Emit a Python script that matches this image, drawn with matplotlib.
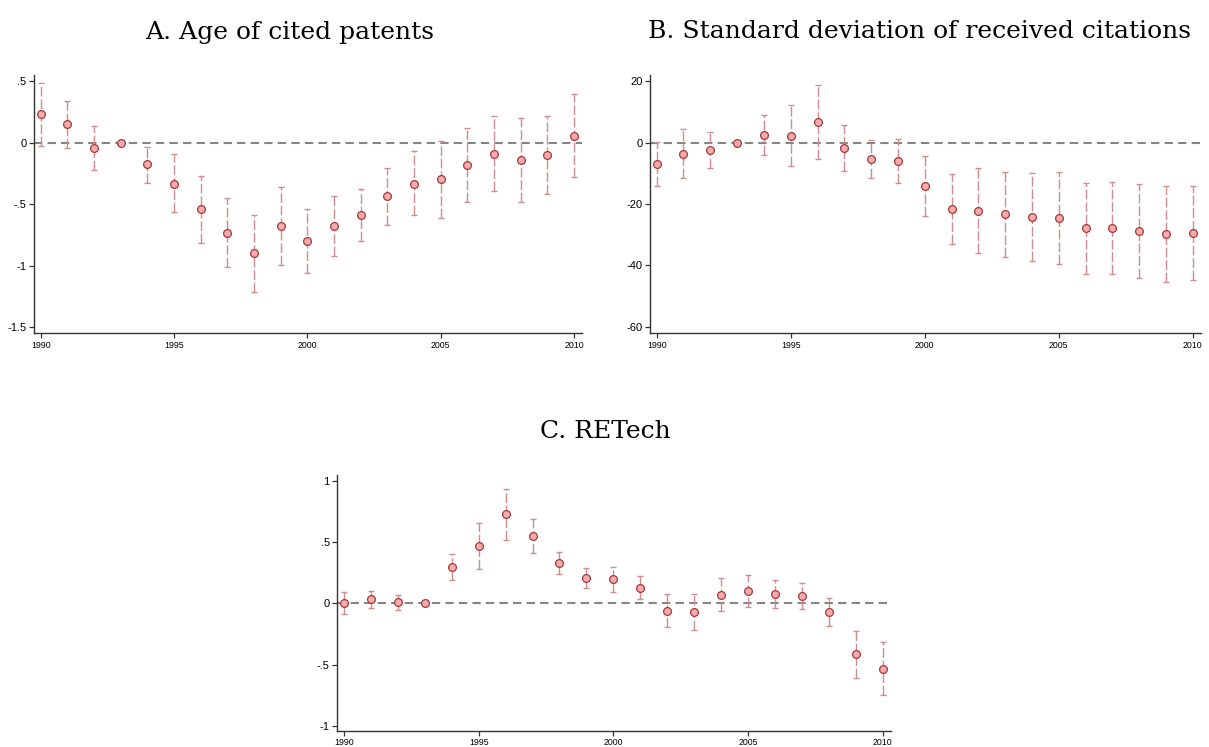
import matplotlib
matplotlib.use('Agg')
from matplotlib import pyplot as plt

# Years
years = list(range(1990, 2011))

# A. Age of cited patents
age_coef = [0.234, 0.152, -0.043, 0.0, -0.177, -0.332, -0.543, -0.734, -0.902, -0.679, -0.799,
            -0.677, -0.590, -0.435, -0.332, -0.296, -0.182, -0.090, -0.141, -0.101, 0.057]
age_hi = [0.49, 0.342, 0.139, None, -0.033, -0.095, -0.269, -0.454, -0.587, -0.364, -0.538,
          -0.432, -0.380, -0.204, -0.068, 0.016, 0.122, 0.217, 0.201, 0.217, 0.394]
age_lo = [-0.024, -0.041, -0.223, None, -0.329, -0.568, -0.818, -1.014, -1.215, -0.997, -1.06,
          -0.924, -0.799, -0.666, -0.592, -0.611, -0.486, -0.394, -0.481, -0.418, -0.277]

# B. Standard deviation of received citations
sd_coef = [-6.97, -3.6, -2.5, 0.0, 2.4, 2.2, 6.8, -1.7, -5.4, -5.9, -14.2,
           -21.6, -22.2, -23.3, -24.3, -24.6, -27.8, -27.7, -28.9, -29.8, -29.4]
sd_hi = [0.3, 4.6, 3.4, None, 9.2, 12.2, 18.7, 5.8, 0.8, 1.3, -4.2,
         -10.1, -8.4, -9.4, -10.0, -9.5, -13.0, -12.8, -13.6, -14.2, -14.1]
sd_lo = [-14.0, -11.6, -8.4, None, -4.1, -7.7, -5.2, -9.3, -11.6, -13.1, -24.0,
         -32.9, -36.0, -37.3, -38.7, -39.7, -42.7, -42.7, -44.2, -45.3, -44.9]

# C. RETech
re_coef = [0.0, 0.033, 0.008, 0.0, 0.294, 0.465, 0.727, 0.55, 0.327, 0.204, 0.196,
           0.128, -0.063, -0.073, 0.071, 0.098, 0.076, 0.057, -0.068, -0.414, -0.533]
re_hi = [0.09, 0.10, 0.071, None, 0.40, 0.656, 0.936, 0.686, 0.416, 0.286, 0.30,
         0.223, 0.074, 0.074, 0.207, 0.231, 0.193, 0.166, 0.046, -0.226, -0.316]
re_lo = [-0.09, -0.038, -0.054, None, 0.188, 0.28, 0.517, 0.408, 0.237, 0.122, 0.093,
         0.035, -0.196, -0.22, -0.065, -0.033, -0.041, -0.049, -0.182, -0.607, -0.748]

# Tick labels
x_ticks = [1990, 1995, 2000, 2005, 2010]
age_yticks = [0.5, 0, -0.5, -1, -1.5]
age_ylabels = ['.5', '0', '-.5', '-1', '-1.5']
sd_yticks = [20, 0, -20, -40, -60]
sd_ylabels = ['20', '0', '-20', '-40', '-60']
re_yticks = [1, 0.5, 0, -0.5, -1]
re_ylabels = ['1', '.5', '0', '-.5', '-1']

titles = ['A. Age of cited patents', 'B. Standard deviation of received citations', 'C. RETech']

bar_col = '#cc8c90'
face_col = '#f6acab'
edge_col = '#a8363c'


def draw_panel(ax, coef, hi, lo, yticks, ylabels, ylim):
    # error bars (reference year has none)
    ex = [y for y, h in zip(years, hi) if h is not None]
    ec = [c for c, h in zip(coef, hi) if h is not None]
    eh = [h - c for c, h in zip(coef, hi) if h is not None]
    el = [c - l for c, l in zip(coef, lo) if l is not None]
    ax.axhline(0, color='#858585', lw=1.5, ls=(0, (4, 2.5)), zorder=1)
    eb = ax.errorbar(ex, ec, yerr=[el, eh], fmt='none', ecolor=bar_col, elinewidth=1.0,
                     capsize=2.2, capthick=1.0, zorder=2)
    eb[2][0].set_linestyle((0, (7, 2)))
    ax.plot(years, coef, 'o', ms=5.6, mfc=face_col, mec=edge_col, mew=0.9, zorder=3)

    ax.set_xlim(1989.75, 2010.3)
    ax.set_ylim(ylim)
    ax.set_xticks(x_ticks)
    ax.set_xticklabels([str(t) for t in x_ticks], fontsize=6.3, family='Liberation Sans')
    ax.set_yticks(yticks)
    ax.set_yticklabels(ylabels, fontsize=8, family='Liberation Sans')
    ax.spines['top'].set_visible(False)
    ax.spines['right'].set_visible(False)
    for s in ['left', 'bottom']:
        ax.spines[s].set_color('#333333')
        ax.spines[s].set_linewidth(1.0)
    ax.tick_params(axis='both', length=3.5, width=0.9, color='#333333', pad=2)


fig = plt.figure(figsize=(12.09, 7.47), dpi=100)

ax_a = fig.add_axes([0.0281, 0.5542, 0.4533, 0.3454])
draw_panel(ax_a, age_coef, age_hi, age_lo, age_yticks, age_ylabels, (-1.55, 0.552))

ax_b = fig.add_axes([0.5376, 0.5542, 0.4557, 0.3454])
draw_panel(ax_b, sd_coef, sd_hi, sd_lo, sd_yticks, sd_ylabels, (-62.1, 22.1))

ax_c = fig.add_axes([0.279, 0.0218, 0.4577, 0.3423])
draw_panel(ax_c, re_coef, re_hi, re_lo, re_yticks, re_ylabels, (-1.04, 1.047))

fig.text(290 / 1209, 1 - 32 / 747, titles[0], ha='center', va='center', fontsize=18, family='DejaVu Serif')
fig.text(919 / 1209, 1 - 32 / 747, titles[1], ha='center', va='center', fontsize=18, family='DejaVu Serif')
fig.text(605 / 1209, 1 - 432 / 747, titles[2], ha='center', va='center', fontsize=18, family='DejaVu Serif')

fig.savefig('out.png', dpi=100)
